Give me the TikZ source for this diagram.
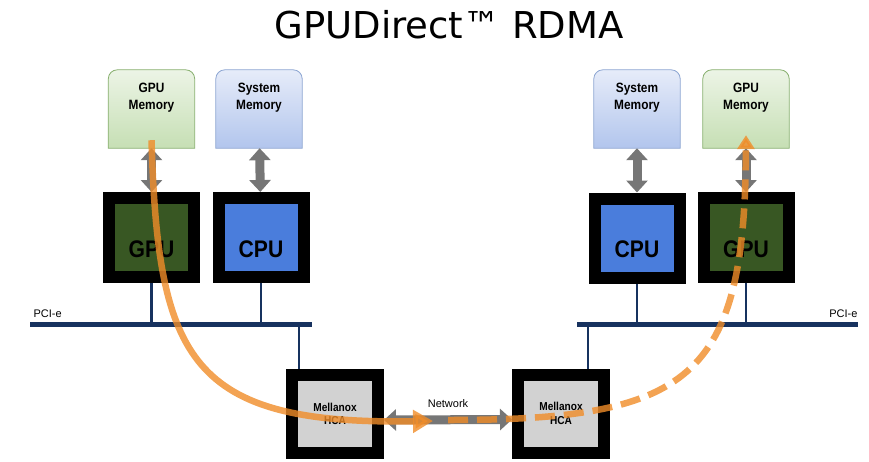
\documentclass[tikz,border=0pt]{standalone}
\usepackage{fontspec}
\setmainfont{Liberation Sans}
\newfontfamily\titlefont{DejaVu Sans}
\newfontfamily\narrowfont[FakeStretch=0.88]{Liberation Sans}
\usetikzlibrary{arrows.meta,backgrounds}

\definecolor{busblue}{RGB}{23,50,95}
\definecolor{gpugreen}{RGB}{56,87,35}
\definecolor{cpublue}{RGB}{74,125,220}
\definecolor{hcagray}{RGB}{210,210,210}
\definecolor{topmemgreen}{RGB}{236,244,230}
\definecolor{botmemgreen}{RGB}{198,223,180}
\definecolor{linememgreen}{RGB}{135,175,110}
\definecolor{topmemblue}{RGB}{230,236,249}
\definecolor{botmemblue}{RGB}{178,197,237}
\definecolor{linememblue}{RGB}{140,165,210}
\definecolor{linkgray}{RGB}{118,118,118}
\definecolor{floworange}{RGB}{240,140,40}

\begin{document}
\begin{tikzpicture}[x=1pt,y=-1pt]
\useasboundingbox (0,0) rectangle (869,461);

\node[font=\titlefont\fontsize{37}{44}\selectfont] (title) at (449,25) {GPUDirect™ RDMA};

% memories
\begin{scope}[every node/.style={minimum width=86, minimum height=78, align=center,
      font=\narrowfont\bfseries\fontsize{13.5}{16.5}\selectfont, text depth=25pt}]
    \node (gmemL) at (151.5,109) {GPU\\Memory};
    \node (smemL) at (259,109) {System\\Memory};
    \node (smemR) at (637,109) {System\\Memory};
    \node (gmemR) at (746,109) {GPU\\Memory};
\end{scope}

\begin{scope}[on background layer]
    \foreach \m/\c in {gmemL/memgreen, smemL/memblue, smemR/memblue, gmemR/memgreen}
        \shade[top color=top\c, bottom color=bot\c, draw=line\c, line width=0.8pt]
            (\m.south west) [rounded corners=9pt] -- (\m.north west) -- (\m.north east)
            [sharp corners] -- (\m.south east) -- cycle;
\end{scope}

% chips
\begin{scope}[every node/.style={draw=black, line width=12pt, minimum width=85, minimum height=79,
      font=\narrowfont\bfseries\fontsize{24}{28}\selectfont, text height=39pt, text depth=0pt}]
    \node[fill=gpugreen] (gpuL) at (151.5,237.5) {GPU};
    \node[fill=cpublue] (cpuL) at (261,237.5) {CPU};
    \node[fill=cpublue] (cpuR) at (637,238) {CPU};
    \node[fill=gpugreen] (gpuR) at (746,237.5) {GPU};
\end{scope}

% adapters
\begin{scope}[every node/.style={draw=black, line width=12pt, minimum width=86, minimum height=78,
      fill=hcagray, align=center, font=\narrowfont\bfseries\fontsize{11.5}{13.5}\selectfont}]
    \node (hcaL) at (335,414) {Mellanox\\HCA};
    \node (hcaR) at (561,413.5) {Mellanox\\HCA};
\end{scope}

% PCI-e buses
\coordinate (busLw) at (30,324);
\coordinate (busLe) at (312,324);
\coordinate (busRw) at (577,324);
\coordinate (busRe) at (858,324);
\begin{scope}[every path/.style={draw=busblue, line width=2.5pt}]
    \draw[line width=5pt] (busLw) -- (busLe);
    \draw[line width=5pt] (busRw) -- (busRe);
    \draw (gpuL) -- (gpuL |- busLw);
    \draw (cpuL) -- (cpuL |- busLw);
    \draw ([xshift=13pt]hcaL.north west) -- ([xshift=13pt]hcaL.north west |- busLw);
    \draw (cpuR) -- (cpuR |- busRw);
    \draw (gpuR) -- (gpuR |- busRw);
    \draw ([xshift=-22pt]hcaR.north east) -- ([xshift=-22pt]hcaR.north east |- busRw);
\end{scope}
\node[anchor=south west, font=\fontsize{11}{13}\selectfont] (pciL) at ([yshift=3pt]busLw) {PCI-e};
\node[anchor=south east, font=\fontsize{11}{13}\selectfont] (pciR) at ([xshift=3pt,yshift=3pt]busRe) {PCI-e};

% links
\begin{scope}[>={Triangle[width=21pt,length=12pt]},
              every edge/.style={draw=linkgray, line width=9pt}]
    \path [<->] (gmemL) edge (gpuL);
    \path [<->] (smemL) edge (cpuL);
    \path [<->] (smemR) edge (cpuR);
    \path [<->] (gmemR) edge (gpuR);
    \path [<->] ([yshift=-6pt]hcaL.east) edge node[above=4pt, font=\fontsize{11}{13}\selectfont] {Network}
        ([yshift=-6pt]hcaR.west);
\end{scope}

% data path
\coordinate (hop) at (433,421);
\coordinate (relay) at (448,420);
\begin{scope}[every path/.style={draw=floworange, opacity=0.8, line width=6.5pt}]
    \draw[-{Triangle[width=22pt,length=20pt]}] ([yshift=8pt]gmemL.south)
        .. controls (158,360) and (190,425) .. (hop);
    \draw[dash pattern=on 20pt off 9pt, -{Triangle[width=17pt,length=14pt]}] (relay)
        .. controls (690,420) and (745,380) .. ([yshift=13pt]gmemR.south);
\end{scope}
\end{tikzpicture}
\end{document}
